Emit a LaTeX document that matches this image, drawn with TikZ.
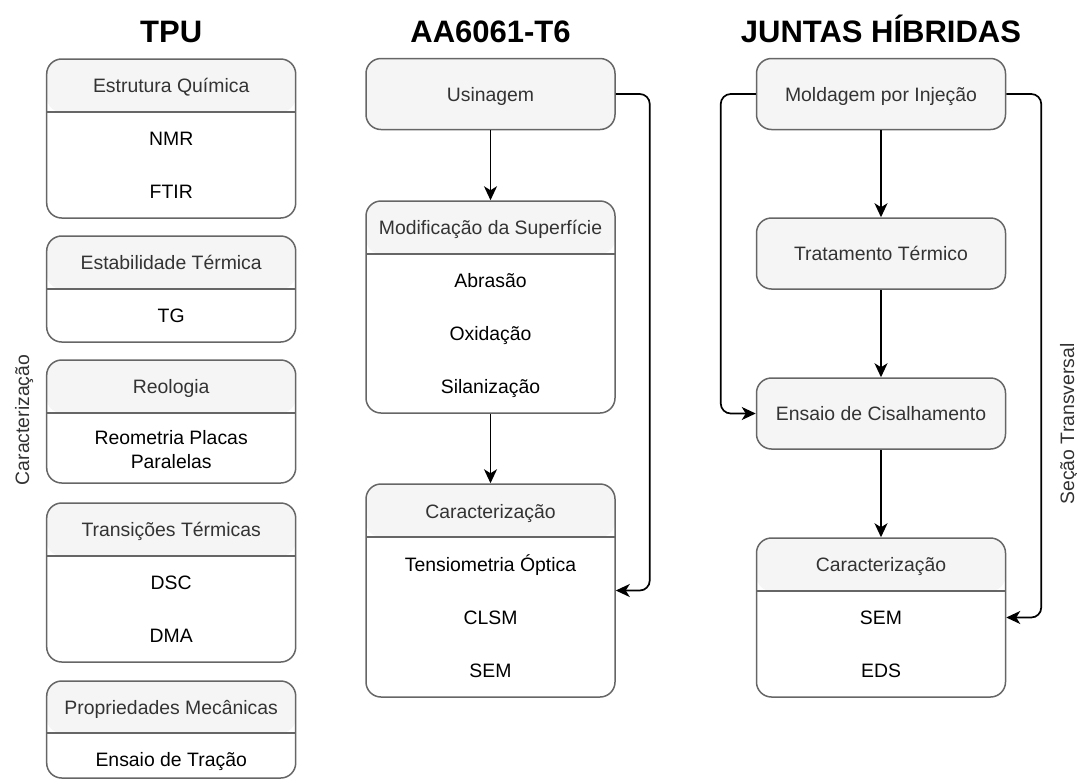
\documentclass[tikz,border=0pt]{standalone}
\usepackage{fontspec}
\setmainfont{Liberation Sans}
\usetikzlibrary{arrows.meta}

\definecolor{boxgray}{HTML}{666666}
\definecolor{headgray}{HTML}{F5F5F5}
\definecolor{headtext}{HTML}{333333}

\tikzset{
    panel/.style={draw=boxgray, line width=1.5pt, rounded corners=15pt,
        minimum width=249pt, inner sep=0pt},
    stepbox/.style={panel, fill=headgray, minimum height=71pt},
    listbox/.style={panel, fill=white,
        path picture={
            \fill[headgray] (path picture bounding box.north west)
                rectangle ([yshift=-#1]path picture bounding box.north east);
            \draw[boxgray, line width=1.5pt]
                ([yshift=-#1]path picture bounding box.north west) --
                ([yshift=-#1]path picture bounding box.north east);
        }},
    listbox/.default=53pt,
    headtxt/.style={text=headtext, font=\fontsize{19.4}{24}\selectfont,
        text height=14pt, text depth=0pt, inner sep=0pt},
    itemtxt/.style={font=\fontsize{19.4}{24}\selectfont,
        text height=14pt, text depth=0pt, inner sep=0pt},
    coltitle/.style={font=\fontsize{31}{36}\selectfont\bfseries,
        text height=22pt, text depth=0pt, inner sep=0pt},
    sidetxt/.style={text=headtext, font=\fontsize{19.4}{24}\selectfont,
        rotate=90, text height=14pt, text depth=0pt, inner sep=0pt},
    flow/.style={-{Stealth[length=14pt,width=13pt,inset=4pt]},
        line width=1.7pt, rounded corners=10pt}
}

\begin{document}
\begin{tikzpicture}[x=1pt, y=-1pt]

\useasboundingbox (0,0) rectangle (1077,780);

% Column positions
\def\colA{171.2}
\def\colB{490.5}
\def\colC{881}

% Titles
\node[coltitle] (tpu) at (\colA,31) {TPU};
\node[coltitle] (alu) at (\colB,31) {AA6061-T6};
\node[coltitle] (junta) at (\colC,31) {JUNTAS HÍBRIDAS};

% TPU characterisation boxes
\node[listbox, minimum height=159pt] (quim) at (\colA,138.5) {};
\node[headtxt] (quimH) at (\colA,85.5) {Estrutura Química};
\node[itemtxt] (nmr) at (\colA,138.5) {NMR};
\node[itemtxt] (ftir) at (\colA,191.5) {FTIR};

\node[listbox, minimum height=106pt] (estab) at (\colA,289) {};
\node[headtxt] (estabH) at (\colA,262.5) {Estabilidade Térmica};
\node[itemtxt] (tg) at (\colA,315.5) {TG};

\node[listbox, minimum height=123pt] (reol) at (\colA,421.5) {};
\node[headtxt] (reolH) at (\colA,386.5) {Reologia};
\node[itemtxt, text height=, text depth=, align=center] (reom) at (\colA,450)
    {Reometria Placas\\Paralelas};

\node[listbox, minimum height=159pt] (trans) at (\colA,582.5) {};
\node[headtxt] (transH) at (\colA,529.5) {Transições Térmicas};
\node[itemtxt] (dsc) at (\colA,582.5) {DSC};
\node[itemtxt] (dma) at (\colA,635.5) {DMA};

\node[listbox=52pt, minimum height=97pt] (mec) at (\colA,729.5) {};
\node[headtxt] (mecH) at (\colA,707) {Propriedades Mecânicas};
\node[itemtxt] (trac) at (\colA,759) {Ensaio de Tração};

\node[sidetxt] (carac) at (22,420) {Caracterização};

% AA6061-T6 column
\node[stepbox] (usin) at (\colB,94) {};
\node[headtxt] (usinH) at (\colB,94) {Usinagem};

\node[listbox, minimum height=212pt] (modif) at (\colB,307) {};
\node[headtxt] (modifH) at (\colB,227.5) {Modificação da Superfície};
\node[itemtxt] (abr) at (\colB,280.5) {Abrasão};
\node[itemtxt] (oxi) at (\colB,333.5) {Oxidação};
\node[itemtxt] (sil) at (\colB,386.5) {Silanização};

\node[listbox, minimum height=213pt] (carA) at (\colB,590.5) {};
\node[headtxt] (carAH) at (\colB,511) {Caracterização};
\node[itemtxt] (tens) at (\colB,564.5) {Tensiometria Óptica};
\node[itemtxt] (clsm) at (\colB,617.5) {CLSM};
\node[itemtxt] (semA) at (\colB,670.5) {SEM};

% Hybrid joints column
\node[stepbox] (mold) at (\colC,94) {};
\node[headtxt] (moldH) at (\colC,94) {Moldagem por Injeção};

\node[stepbox] (trat) at (\colC,253.5) {};
\node[headtxt] (tratH) at (\colC,253.5) {Tratamento Térmico};

\node[stepbox] (ens) at (\colC,413.5) {};
\node[headtxt] (ensH) at (\colC,413.5) {Ensaio de Cisalhamento};

\node[listbox, minimum height=159pt] (carB) at (\colC,617.5) {};
\node[headtxt] (carBH) at (\colC,564.5) {Caracterização};
\node[itemtxt] (semB) at (\colC,617.5) {SEM};
\node[itemtxt] (eds) at (\colC,670.5) {EDS};

\node[sidetxt] (secao) at (1067,424) {Seção Transversal};

% Flow arrows
\draw[flow] (usin) -- (modif);
\draw[flow] (modif) -- (carA);
\draw[flow] (usin.east) -- ++(34,0) |- (carA.east);

\draw[flow] (mold) -- (trat);
\draw[flow] (trat) -- (ens);
\draw[flow] (ens) -- (carB);
\draw[flow] (mold.west) -- ++(-35,0) |- (ens.west);
\draw[flow] (mold.east) -- ++(35,0) |- (carB.east);

\end{tikzpicture}
\end{document}
